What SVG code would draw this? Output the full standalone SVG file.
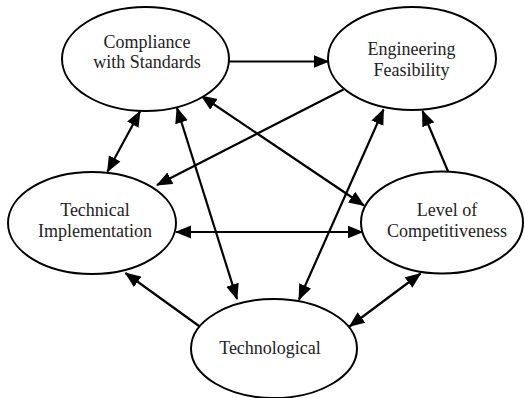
<svg xmlns="http://www.w3.org/2000/svg" width="525" height="398" viewBox="0 0 525 398">
<style>
.node ellipse{fill:#fff;stroke:#000;stroke-width:2}
.node text{font-family:'Liberation Serif','Times New Roman',Times,serif;font-size:18px;fill:#222;text-anchor:middle}
.conn line{stroke:#000;stroke-width:2.2;fill:none}
.one{marker-end:url(#ah)}
.two{marker-end:url(#ah);marker-start:url(#ah)}
</style>
<defs>
<marker id="ah" markerUnits="userSpaceOnUse" markerWidth="17" markerHeight="14" viewBox="0 0 17 14" refX="15" refY="7" orient="auto-start-reverse">
<path d="M0,0.5 L16,7 L0,13.5 z" fill="#000"/>
</marker>
</defs>
<rect width="525" height="398" fill="#fff"/>
<g class="conn">
<line class="one" x1="229" y1="61.5" x2="328.5" y2="61.5"/>
<line class="two" x1="140" y1="111.5" x2="107.5" y2="171.5"/>
<line class="two" x1="177" y1="108" x2="237" y2="299"/>
<line class="two" x1="201.5" y1="96" x2="364" y2="205.5"/>
<line class="one" x1="343.5" y1="89.5" x2="157" y2="185"/>
<line class="two" x1="383.5" y1="109.5" x2="299" y2="299.5"/>
<line class="one" x1="448.5" y1="172.5" x2="422.5" y2="111"/>
<line class="two" x1="176" y1="232" x2="362.5" y2="232"/>
<line class="one" x1="199" y1="326" x2="125.5" y2="273"/>
<line class="two" x1="420.5" y1="273.5" x2="349.5" y2="326.5"/>
</g>
<g id="compliance" class="node">
<ellipse cx="145.5" cy="59" rx="83.5" ry="52"/>
<text x="147" y="47.5" font-family="Liberation Serif, serif">Compliance</text>
<text x="147" y="68" font-family="Liberation Serif, serif">with Standards</text>
</g>
<g id="engineering" class="node">
<ellipse cx="412" cy="58.5" rx="84" ry="51.5"/>
<text x="411.5" y="55" font-family="Liberation Serif, serif">Engineering</text>
<text x="411.5" y="75.5" font-family="Liberation Serif, serif">Feasibility</text>
</g>
<g id="technical" class="node">
<ellipse cx="92" cy="223" rx="84" ry="51"/>
<text x="95" y="215.5" font-family="Liberation Serif, serif">Technical</text>
<text x="95" y="236.5" font-family="Liberation Serif, serif">Implementation</text>
</g>
<g id="level" class="node">
<ellipse cx="442" cy="222.5" rx="81" ry="51"/>
<text x="447" y="215.5" font-family="Liberation Serif, serif">Level of</text>
<text x="447" y="236.5" font-family="Liberation Serif, serif">Competitiveness</text>
</g>
<g id="technological" class="node">
<ellipse cx="274" cy="348.5" rx="83" ry="49.5"/>
<text x="270" y="354" font-family="Liberation Serif, serif">Technological</text>
</g>
</svg>
